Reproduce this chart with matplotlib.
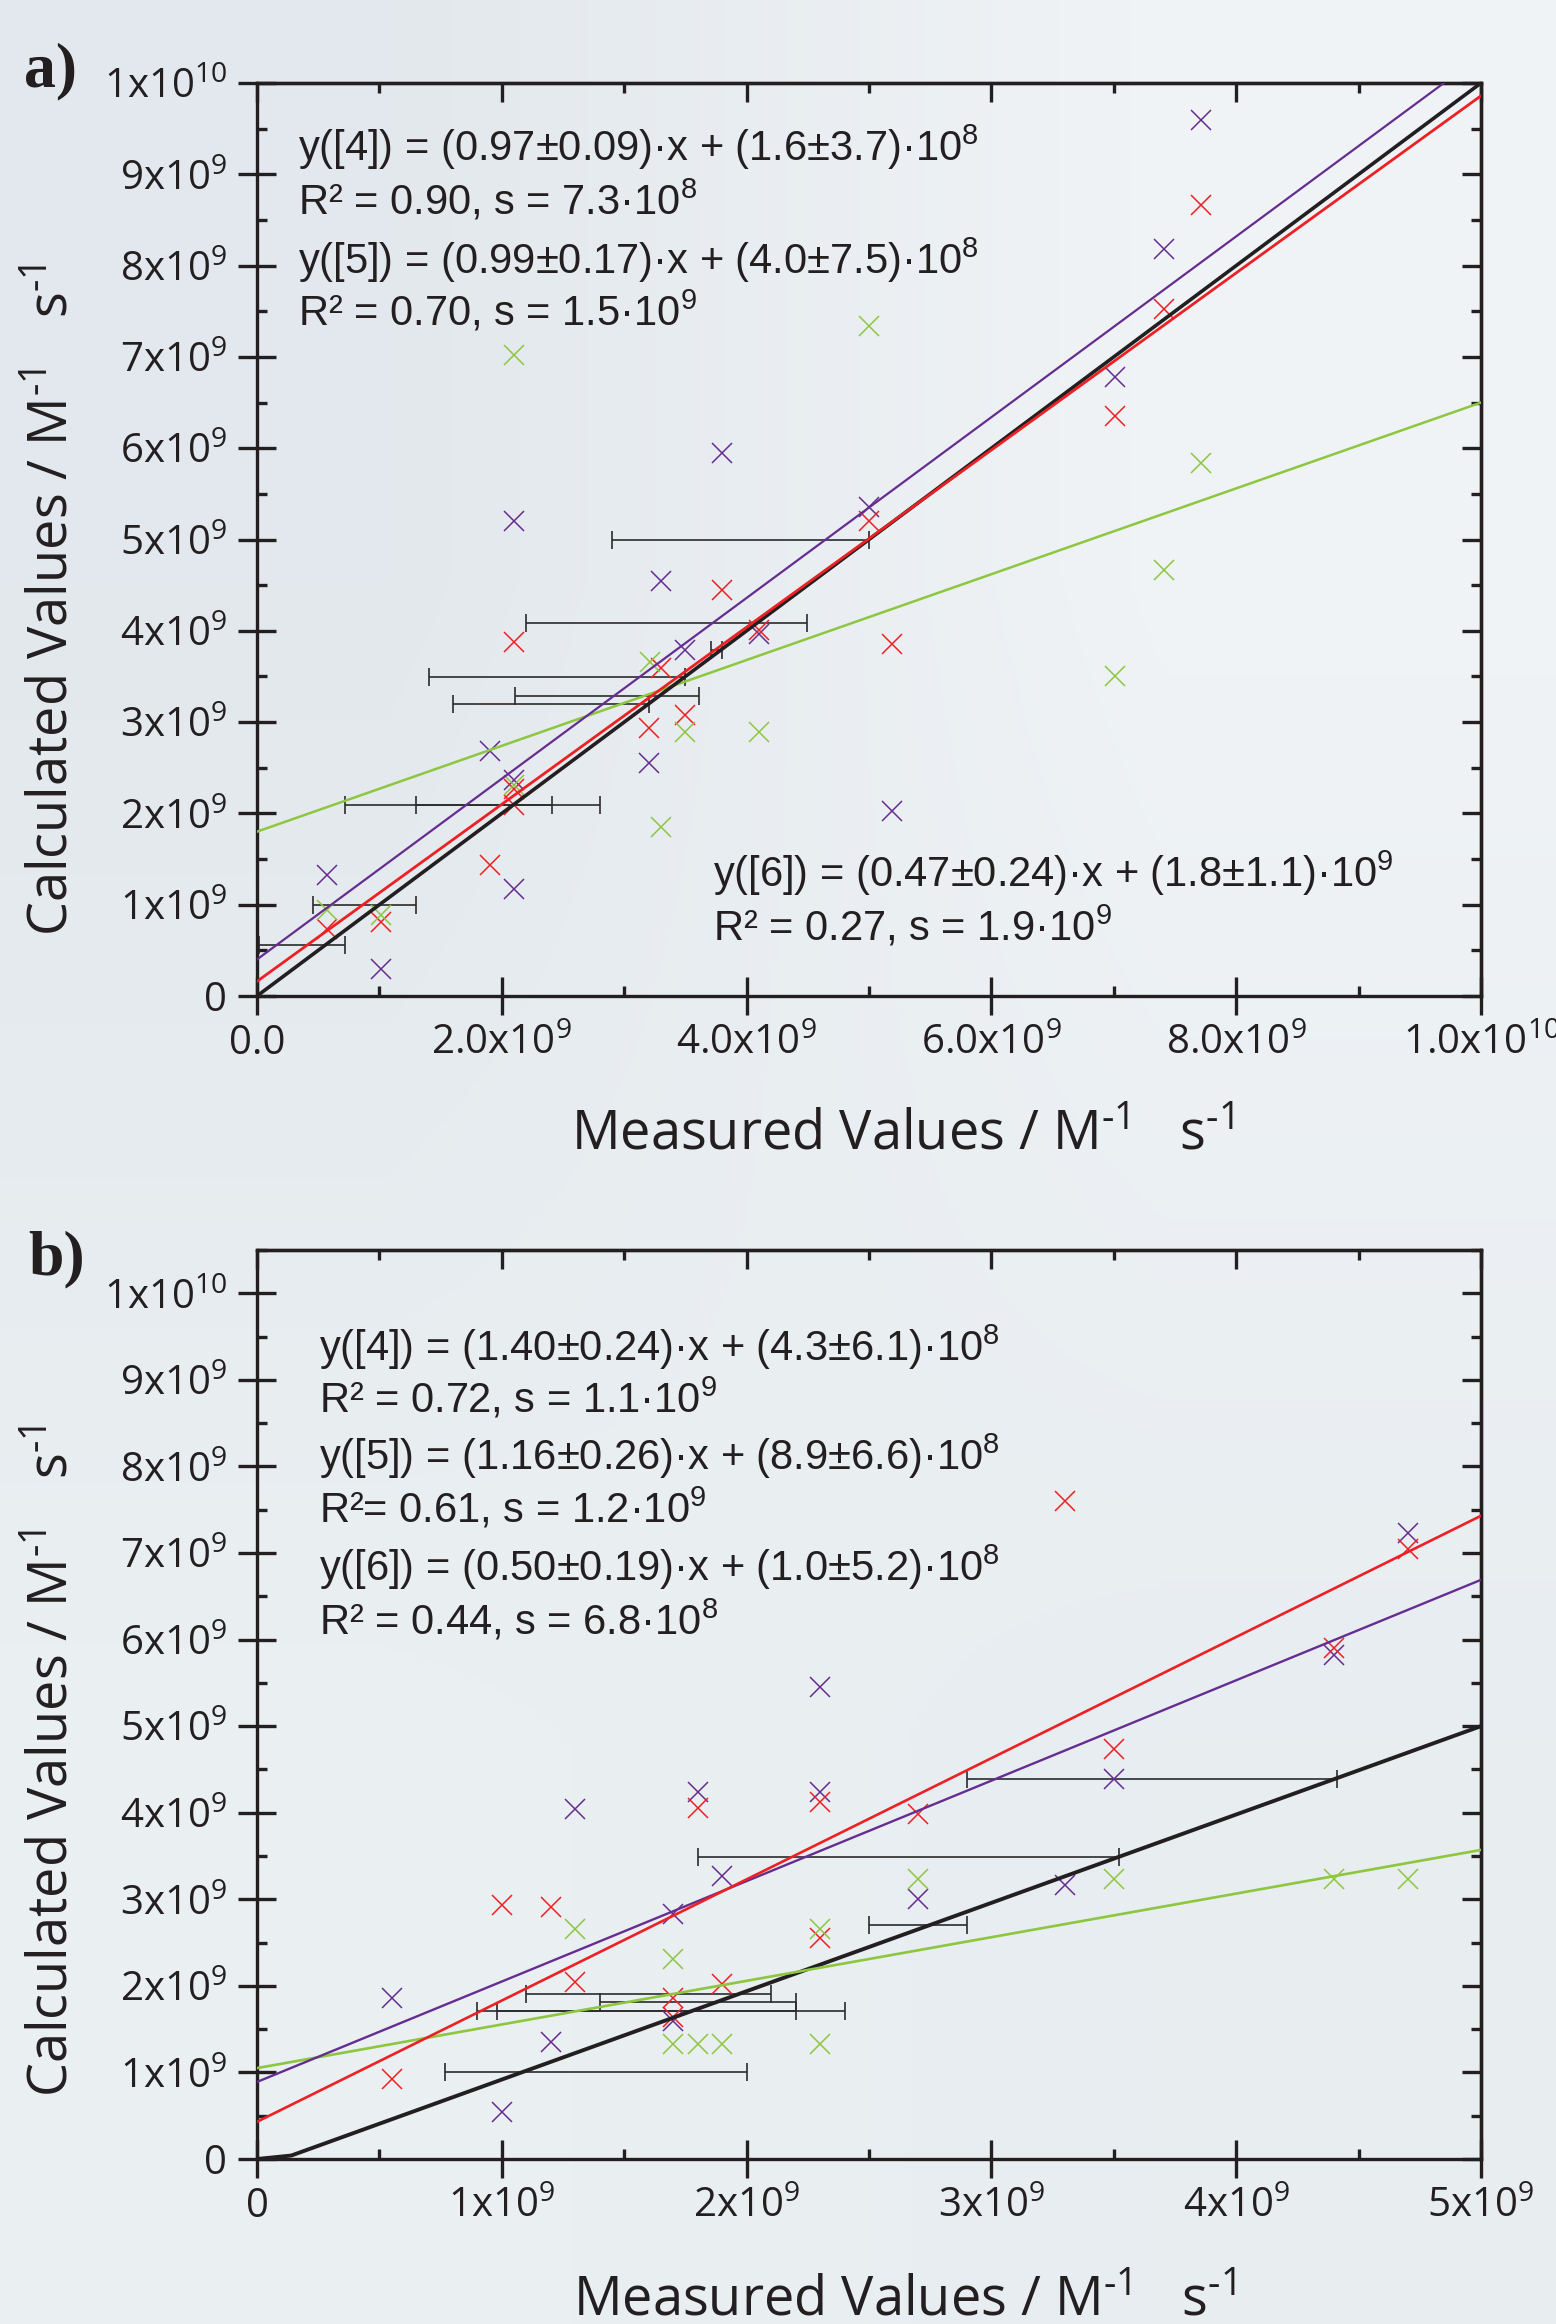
import matplotlib.pyplot as plt
import numpy as np
from matplotlib.ticker import MultipleLocator, NullFormatter

plt.rcParams['font.family'] = ['Open Sans', 'DejaVu Sans']

# all values in units of 1e9 M^-1 s^-1
# ---- panel a data ----
a_purple_x = [0.57, 1.01, 1.90, 2.10, 2.10, 2.10, 3.20, 3.30, 3.50, 3.80, 4.10, 5.00, 5.19, 7.01, 7.41, 7.71]
a_purple_y = [1.33, 0.30, 2.68, 5.20, 1.17, 2.37, 2.55, 4.54, 3.79, 5.95, 3.96, 5.36, 2.03, 6.78, 8.18, 9.59]
a_red_x = [0.57, 1.01, 1.90, 2.10, 2.10, 2.10, 3.20, 3.30, 3.50, 3.80, 4.10, 5.00, 5.19, 7.01, 7.41, 7.71]
a_red_y = [0.73, 0.81, 1.43, 3.88, 2.27, 2.09, 2.94, 3.59, 3.08, 4.45, 4.01, 5.20, 3.85, 6.35, 7.52, 8.66]
a_green_x = [0.57, 1.01, 2.10, 2.10, 3.21, 3.30, 3.50, 4.10, 5.00, 7.01, 7.41, 7.71]
a_green_y = [0.94, 0.885, 2.31, 7.02, 3.66, 1.85, 2.89, 2.89, 7.34, 3.50, 4.67, 5.84]

a_err_y = [0.556, 1.00, 2.09, 2.09, 3.195, 3.29, 3.49, 3.79, 4.09, 5.00]
a_err_lo = [0.02, 0.455, 0.72, 1.30, 1.60, 2.105, 1.405, 3.71, 2.20, 2.90]
a_err_hi = [0.72, 1.30, 2.80, 2.41, 3.205, 3.61, 3.50, 3.80, 4.49, 5.00]

a_line_x = [0.0, 10.0]
a_black_y = [0.0, 10.0]
a_red_fit = [0.16, 9.86]
a_purple_fit = [0.40, 10.30]
a_green_fit = [1.80, 6.50]

a_xticks = [0, 2, 4, 6, 8, 10]
a_xlabels = ['0.0', r'$\mathregular{2.0x10^{9}}$', r'$\mathregular{4.0x10^{9}}$',
             r'$\mathregular{6.0x10^{9}}$', r'$\mathregular{8.0x10^{9}}$', r'$\mathregular{1.0x10^{10}}$']

# ---- panel b data ----
b_purple_x = [0.55, 1.00, 1.20, 1.30, 1.70, 1.70, 1.80, 1.90, 2.30, 2.30, 2.70, 3.30, 3.50, 4.40, 4.70]
b_purple_y = [1.86, 0.54, 1.35, 4.04, 2.83, 1.59, 4.24, 3.27, 4.24, 5.45, 3.00, 3.17, 4.39, 5.82, 7.23]
b_red_x = [0.55, 1.00, 1.20, 1.30, 1.70, 1.70, 1.80, 1.90, 2.30, 2.30, 2.70, 3.30, 3.50, 4.40, 4.70]
b_red_y = [0.92, 2.93, 2.91, 2.05, 1.86, 1.64, 4.05, 2.02, 4.12, 2.55, 3.99, 7.60, 4.74, 5.90, 7.05]
b_green_x = [1.30, 1.70, 1.70, 1.80, 1.90, 2.30, 2.30, 2.70, 3.50, 4.40, 4.70]
b_green_y = [2.66, 2.31, 1.33, 1.33, 1.33, 2.66, 1.33, 3.23, 3.23, 3.23, 3.23]

b_err_y = [1.00, 1.91, 1.81, 1.71, 1.71, 2.70, 3.49, 4.39]
b_err_lo = [0.77, 1.10, 1.40, 0.90, 0.98, 2.50, 1.80, 2.90]
b_err_hi = [2.00, 2.10, 2.20, 2.20, 2.40, 2.90, 3.52, 4.41]

b_black_x = [0.0, 0.14, 5.0]
b_black_y = [0.0, 0.04, 5.0]
b_line_x = [0.0, 5.0]
b_red_fit = [0.43, 7.43]
b_purple_fit = [0.89, 6.69]
b_green_fit = [1.05, 3.57]

b_xticks = [0, 1, 2, 3, 4, 5]
b_xlabels = ['0', r'$\mathregular{1x10^{9}}$', r'$\mathregular{2x10^{9}}$',
             r'$\mathregular{3x10^{9}}$', r'$\mathregular{4x10^{9}}$', r'$\mathregular{5x10^{9}}$']

yticks = list(range(11))
ylabels = ['0'] + [r'$\mathregular{%dx10^{9}}$' % i for i in range(1, 10)] + [r'$\mathregular{1x10^{10}}$']

a_text = [r'y([4]) = (0.97±0.09)·x + (1.6±3.7)·$\mathregular{10^{8}}$',
          r'R² = 0.90, s = 7.3·$\mathregular{10^{8}}$',
          r'y([5]) = (0.99±0.17)·x + (4.0±7.5)·$\mathregular{10^{8}}$',
          r'R² = 0.70, s = 1.5·$\mathregular{10^{9}}$']
a_text2 = [r'y([6]) = (0.47±0.24)·x + (1.8±1.1)·$\mathregular{10^{9}}$',
           r'R² = 0.27, s = 1.9·$\mathregular{10^{9}}$']
b_text = [r'y([4]) = (1.40±0.24)·x + (4.3±6.1)·$\mathregular{10^{8}}$',
          r'R² = 0.72, s = 1.1·$\mathregular{10^{9}}$',
          r'y([5]) = (1.16±0.26)·x + (8.9±6.6)·$\mathregular{10^{8}}$',
          r'R²= 0.61, s = 1.2·$\mathregular{10^{9}}$',
          r'y([6]) = (0.50±0.19)·x + (1.0±5.2)·$\mathregular{10^{8}}$',
          r'R² = 0.44, s = 6.8·$\mathregular{10^{8}}$']

PURPLE = '#662d91'
RED = '#ed2024'
GREEN = '#8dc63f'
BLACK = '#231f20'
W, H = 1556, 2324


def fx(px):
    return px / W


def fy(py):
    return 1 - py / H


fig = plt.figure(figsize=(W / 100, H / 100), dpi=100)

# soft grey-blue background
bg = fig.add_axes([0, 0, 1, 1], zorder=-10)
corners = np.array([[[0.89, 0.91, 0.93], [0.94, 0.955, 0.965]],
                    [[0.92, 0.94, 0.95], [0.91, 0.93, 0.945]]])
bg.imshow(corners, extent=(0, 1, 0, 1), aspect='auto', interpolation='bilinear')
bg.axis('off')


def style_axes(ax, xticks, xlabels, xminor, ylim):
    ax.set_facecolor('none')
    ax.set_xlim(xticks[0], xticks[-1])
    ax.set_ylim(*ylim)
    ax.set_xticks(xticks, xlabels)
    ax.set_yticks(yticks, ylabels)
    ax.xaxis.set_minor_locator(MultipleLocator(xminor))
    ax.yaxis.set_minor_locator(MultipleLocator(0.5))
    for sp in ax.spines.values():
        sp.set_linewidth(2.4)
        sp.set_color(BLACK)
    ax.tick_params(which='major', direction='inout', length=27, width=2.4, color=BLACK,
                   labelsize=29, labelcolor=BLACK)
    ax.tick_params(axis='y', which='major', pad=8)
    ax.tick_params(axis='x', which='major', pad=6)
    ax.tick_params(which='minor', direction='in', length=7, width=2.4, color=BLACK)
    # inward ticks on the top and right side
    top = ax.secondary_xaxis('top')
    top.set_xticks(xticks)
    top.xaxis.set_minor_locator(MultipleLocator(xminor))
    top.xaxis.set_major_formatter(NullFormatter())
    right = ax.secondary_yaxis('right')
    right.set_yticks(yticks)
    right.yaxis.set_minor_locator(MultipleLocator(0.5))
    right.yaxis.set_major_formatter(NullFormatter())
    for sec in (top, right):
        sec.tick_params(which='major', direction='in', length=13.5, width=2.4, color=BLACK)
        sec.tick_params(which='minor', direction='in', length=7, width=2.4, color=BLACK)
        for sp in sec.spines.values():
            sp.set_linewidth(2.4)
            sp.set_color(BLACK)


def draw_errors(ax, ys, lo, hi):
    lo = np.array(lo)
    hi = np.array(hi)
    ax.errorbar((lo + hi) / 2, ys, xerr=(hi - lo) / 2, fmt='none', ecolor='#2b2b2b',
                elinewidth=1.2, capsize=6.5, capthick=1.2, zorder=2)


def draw_points(ax, x, y, color):
    ax.plot(x, y, linestyle='none', marker='x', ms=14.5, mew=1.1, color=color, zorder=3)


# ---- panel a ----
ax1 = fig.add_axes([fx(257), fy(996), fx(1224), (996 - 83) / H])
style_axes(ax1, a_xticks, a_xlabels, 1, (0, 10))
draw_errors(ax1, a_err_y, a_err_lo, a_err_hi)
draw_points(ax1, a_purple_x, a_purple_y, PURPLE)
draw_points(ax1, a_red_x, a_red_y, RED)
draw_points(ax1, a_green_x, a_green_y, GREEN)
ax1.plot(a_line_x, a_green_fit, color=GREEN, lw=1.8, zorder=4)
ax1.plot(a_line_x, a_purple_fit, color=PURPLE, lw=1.6, zorder=4)
ax1.plot(a_line_x, a_black_y, color=BLACK, lw=2.6, zorder=4)
ax1.plot(a_line_x, a_red_fit, color=RED, lw=2.0, zorder=4)

# ---- panel b ----
ax2 = fig.add_axes([fx(257), fy(2159), fx(1224), (2159 - 1250) / H])
style_axes(ax2, b_xticks, b_xlabels, 0.5, (0, 10.5))
draw_errors(ax2, b_err_y, b_err_lo, b_err_hi)
draw_points(ax2, b_purple_x, b_purple_y, PURPLE)
draw_points(ax2, b_red_x, b_red_y, RED)
draw_points(ax2, b_green_x, b_green_y, GREEN)
ax2.plot(b_black_x, b_black_y, color=BLACK, lw=2.8, zorder=4)
ax2.plot(b_line_x, b_green_fit, color=GREEN, lw=1.9, zorder=4)
ax2.plot(b_line_x, b_purple_fit, color=PURPLE, lw=1.7, zorder=4)
ax2.plot(b_line_x, b_red_fit, color=RED, lw=1.9, zorder=4)

# ---- annotations ----
txt = dict(family=['Liberation Sans', 'DejaVu Sans'], fontsize=30, color=BLACK,
           ha='left', va='center')
for s, py in zip(a_text, [147, 201, 260, 312]):
    fig.text(fx(298), fy(py), s, **txt)
for s, py in zip(a_text2, [873, 927]):
    fig.text(fx(713), fy(py), s, **txt)
for s, py in zip(b_text, [1347, 1399, 1456, 1509, 1567, 1621]):
    fig.text(fx(319), fy(py), s, **txt)

lab = dict(fontsize=46, fontweight='bold', family=['Liberation Serif', 'DejaVu Serif'],
           color=BLACK, ha='center', va='center')
fig.text(fx(51), fy(71), 'a)', **lab)
fig.text(fx(57), fy(1259), 'b)', **lab)

ylab = 'Calculated Values / M$\\mathregular{^{\u20101}}$   s$\\mathregular{^{\u20101}}$'
xlab = 'Measured Values / M$\\mathregular{^{\u20101}}$   s$\\mathregular{^{\u20101}}$'
fig.text(fx(52), fy(600), ylab, rotation=90, fontsize=39, color=BLACK, ha='center', va='center')
fig.text(fx(52), fy(1761), ylab, rotation=90, fontsize=39, color=BLACK, ha='center', va='center')
fig.text(fx(902), fy(1149), xlab, fontsize=39, color=BLACK, ha='center', va='baseline')
fig.text(fx(904), fy(2315), xlab, fontsize=39, color=BLACK, ha='center', va='baseline')

fig.savefig('out.png', dpi=100)
